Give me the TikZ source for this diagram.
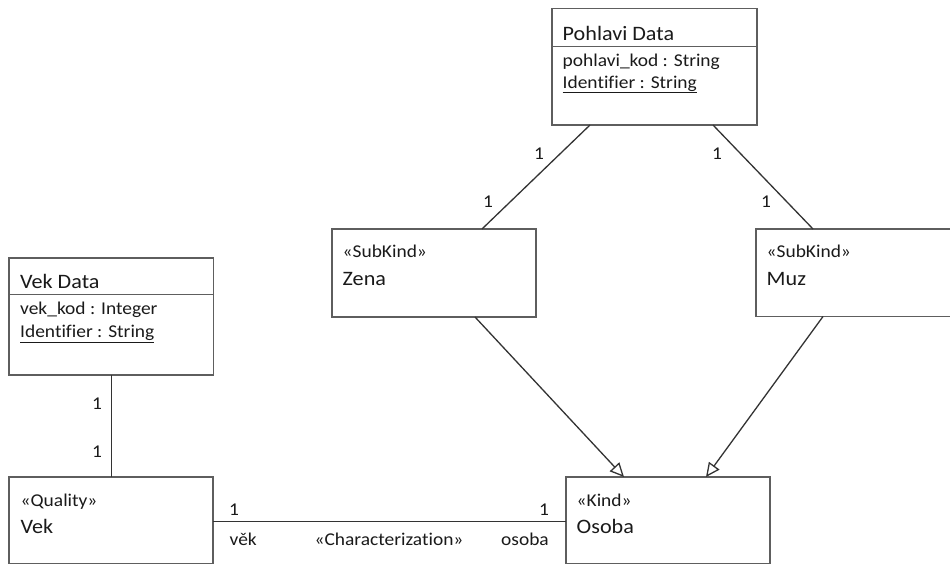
\documentclass[tikz,border=0pt]{standalone}
\usepackage{fontspec}
\setmainfont{Carlito}[FakeStretch=1.08, Ligatures=NoCommon]
\usetikzlibrary{arrows.meta,calc}

\definecolor{boxgray}{HTML}{5E5E5E}
\definecolor{linegray}{HTML}{333333}
\definecolor{inkc}{HTML}{1A1A1A}

\newcommand{\fsTitle}{\fontsize{20.5}{24}\selectfont}
\newcommand{\fsAttr}{\fontsize{18}{22}\selectfont}
\newcommand{\fsStereo}{\fontsize{18}{22}\selectfont}
\newcommand{\fsLabel}{\fontsize{18}{22}\selectfont}

\begin{document}
\begin{tikzpicture}[x=1pt,y=-1pt,
  umlbox/.style={draw=boxgray, line width=1.6pt, fill=white, anchor=north west,
                 inner sep=0pt, outer sep=0pt},
  divider/.style={draw=boxgray, line width=1pt},
  txt/.style={anchor=base west, inner sep=0pt, text=inkc},
  mult/.style={anchor=base, inner sep=0pt, text=inkc, font=\fsLabel},
  conn/.style={draw=linegray, line width=1.3pt},
  gen/.style={conn, -{Triangle[open, length=14pt, width=13pt, line width=1.3pt]}}
]
\useasboundingbox[fill=white] (0,0) rectangle (950,565);

% class boxes
\node[umlbox, minimum width=205pt, minimum height=116.5pt] (pohlavi) at (552,8.5) {};
\node[umlbox, minimum width=204.5pt, minimum height=117pt] (vekdata) at (9,258) {};
\node[umlbox, minimum width=204pt, minimum height=88pt] (zena) at (332,229) {};
\node[umlbox, minimum width=220pt, minimum height=87.5pt] (muz) at (756,229) {};
\node[umlbox, minimum width=204pt, minimum height=86.5pt] (vek) at (9,477) {};
\node[umlbox, minimum width=204pt, minimum height=86.5pt] (osoba) at (566,477) {};

% compartment dividers
\draw[divider] (pohlavi.west |- 0,46.5) -- (pohlavi.east |- 0,46.5);
\draw[divider] (vekdata.west |- 0,294.5) -- (vekdata.east |- 0,294.5);

% Pohlavi Data
\node[txt] (pohlaviT) at (562.5,40) {\fsTitle Pohlavi Data};
\node[txt] (pohlaviA) at (562.5,66) {\fsAttr pohlavi\_kod : String};
\node[txt] (pohlaviB) at (562.5,88) {\fsAttr \underline{Identifier : String}};

% Vek Data
\node[txt] (vekdataT) at (20,288.5) {\fsTitle Vek Data};
\node[txt] (vekdataA) at (20,314) {\fsAttr vek\_kod : Integer};
\node[txt] (vekdataB) at (20,337.5) {\fsAttr \underline{Identifier : String}};

% Zena
\node[txt] (zenaS) at (342.5,257.5) {\fsStereo «SubKind»};
\node[txt] (zenaN) at (342.5,285) {\fsTitle Zena};

% Muz
\node[txt] (muzS) at (766.5,257.5) {\fsStereo «SubKind»};
\node[txt] (muzN) at (766.5,285) {\fsTitle Muz};

% Vek
\node[txt] (vekS) at (20.5,506) {\fsStereo «Quality»};
\node[txt] (vekN) at (20.5,533.5) {\fsTitle Vek};

% Osoba
\node[txt] (osobaS) at (576.5,506) {\fsStereo «Kind»};
\node[txt] (osobaN) at (576.5,533.5) {\fsTitle Osoba};

% associations
\draw[conn] ($(pohlavi.south west)+(38,0)$) -- ($(zena.north west)+(150,0)$);
\draw[conn] ($(pohlavi.south west)+(161,0)$) -- ($(muz.north west)+(57,0)$);
\draw[conn] ($(vekdata.south west)+(102.7,0)$) -- ($(vek.north west)+(102.7,0)$);
\draw[conn] ($(vek.north east)+(0,44.7)$) -- ($(osoba.north west)+(0,44.7)$);

% generalizations
\draw[gen] ($(zena.south west)+(143,0)$) -- ($(osoba.north west)+(58,0)$);
\draw[gen] ($(muz.south west)+(67,0)$) -- ($(osoba.north west)+(140,0)$);

% multiplicities
\node[mult] (m1) at (539,159) {1};
\node[mult] (m2) at (488,207.5) {1};
\node[mult] (m3) at (717,159) {1};
\node[mult] (m4) at (766,207.5) {1};
\node[mult] (m5) at (97,409) {1};
\node[mult] (m6) at (97,457) {1};
\node[mult] (m7) at (234,515) {1};
\node[mult] (m8) at (544,515) {1};

% characterization labels
\node[txt, font=\fsLabel] (roleVek) at (229.5,545) {věk};
\node[mult] (charLbl) at (389,545) {«Characterization»};
\node[mult] (roleOsoba) at (525,545) {osoba};
\end{tikzpicture}
\end{document}
